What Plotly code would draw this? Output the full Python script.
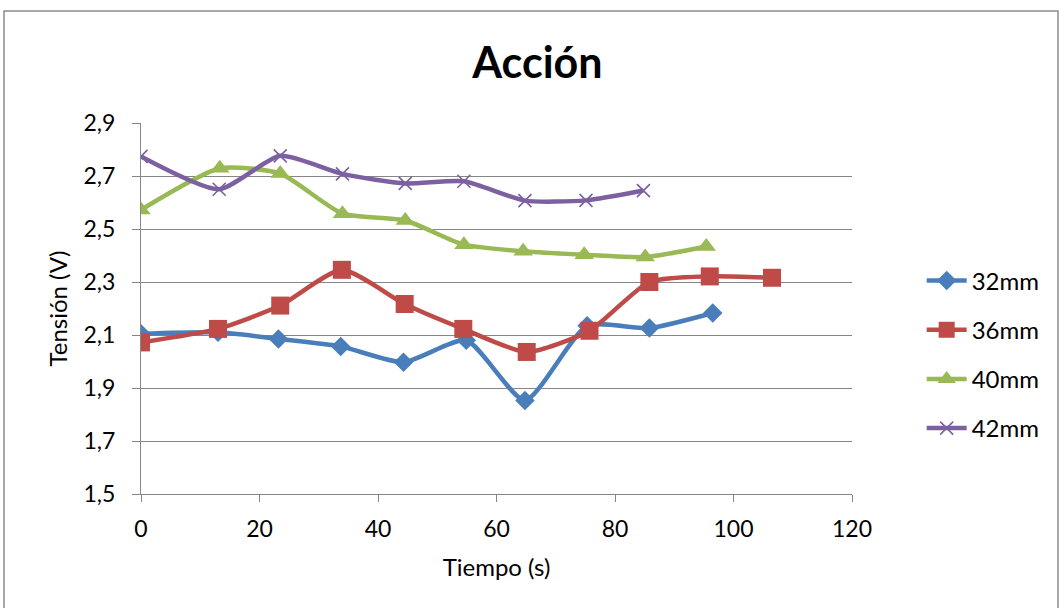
import plotly.graph_objects as go

# Time samples (s) and voltage readings (V) for each gap size
t_32 = [0, 13.0, 23.2, 33.7, 44.3, 54.9, 64.8, 75.3, 85.8, 96.5]
v_32 = [2.105, 2.11, 2.085, 2.057, 1.997, 2.08, 1.853, 2.135, 2.126, 2.183]

t_36 = [0, 13.0, 23.5, 33.9, 44.5, 54.4, 65.1, 75.7, 85.8, 96.0, 106.5]
v_36 = [2.072, 2.123, 2.211, 2.346, 2.217, 2.123, 2.036, 2.116, 2.30, 2.321, 2.316]

t_40 = [0, 13.3, 23.5, 34.0, 44.6, 54.5, 64.5, 74.8, 85.1, 95.4]
v_40 = [2.572, 2.729, 2.709, 2.558, 2.532, 2.441, 2.416, 2.403, 2.394, 2.434]

t_42 = [0, 13.2, 23.5, 34.0, 44.6, 54.5, 64.8, 75.1, 84.8]
v_42 = [2.774, 2.65, 2.776, 2.708, 2.672, 2.68, 2.607, 2.608, 2.645]

series_names = ["32mm", "36mm", "40mm", "42mm"]
x_ticks = [0, 20, 40, 60, 80, 100, 120]
y_ticks = [1.5, 1.7, 1.9, 2.1, 2.3, 2.5, 2.7, 2.9]
y_tick_text = ["1,5", "1,7", "1,9", "2,1", "2,3", "2,5", "2,7", "2,9"]

FONT = "Lato"
styles = [
    dict(color="#4A7EBB", symbol="diamond", size=15, lw=0),
    dict(color="#BE4B48", symbol="square", size=18, lw=0),
    dict(color="#98B954", symbol="triangle-up", size=17, lw=0),
    dict(color="#7D60A0", symbol="x-thin-open", size=13, lw=1.6),
]

fig = go.Figure()
for name, t, v, st in zip(series_names,
                          [t_32, t_36, t_40, t_42],
                          [v_32, v_36, v_40, v_42],
                          styles):
    fig.add_trace(go.Scatter(
        x=t, y=v, name=name, mode="lines+markers", legendgroup=name,
        line=dict(color=st["color"], width=4.5, shape="spline", smoothing=0.6),
        marker=dict(symbol=st["symbol"], size=st["size"], color=st["color"],
                    line=dict(color=st["color"], width=st["lw"])),
    ))

axis_grey = "#868686"
fig.update_layout(
    width=1060, height=608,
    margin=dict(l=141, r=208, t=123, b=114),
    paper_bgcolor="white", plot_bgcolor="white",
    font=dict(family=FONT, color="black", size=23),
    title=dict(text="<b>Acción</b>", x=0.507, xanchor="center",
               y=0.896, yanchor="middle", font=dict(size=43, family=FONT)),
    showlegend=True,
    legend=dict(x=1.098, xanchor="left", y=0.635, yanchor="top",
                font=dict(size=24, family=FONT), tracegroupgap=15,
                itemwidth=40, bgcolor="rgba(0,0,0,0)"),
    xaxis=dict(range=[0, 120], tickvals=x_ticks, ticks="outside",
               ticklen=7, tickcolor=axis_grey, showline=True,
               linecolor=axis_grey, linewidth=1, showgrid=False,
               zeroline=False, tickfont=dict(size=23),
               ticklabelstandoff=7,
               title=dict(text="Tiempo (s)", font=dict(size=24), standoff=18)),
    yaxis=dict(range=[1.5, 2.9], tickvals=y_ticks, ticktext=y_tick_text,
               ticks="outside", ticklen=8, tickcolor=axis_grey,
               showline=True, linecolor=axis_grey, linewidth=1,
               showgrid=True, gridcolor=axis_grey, gridwidth=1,
               zeroline=False, tickfont=dict(size=23),
               ticklabelstandoff=12,
               title=dict(text="Tensión (V)", font=dict(size=24), standoff=9)),
    shapes=[dict(type="rect", xref="paper", yref="paper",
                 x0=-0.1927, x1=1.2897, y0=-0.33, y1=1.302,
                 line=dict(color="#8C8C8C", width=1.5), layer="below")],
)

fig.write_html("out.html")
